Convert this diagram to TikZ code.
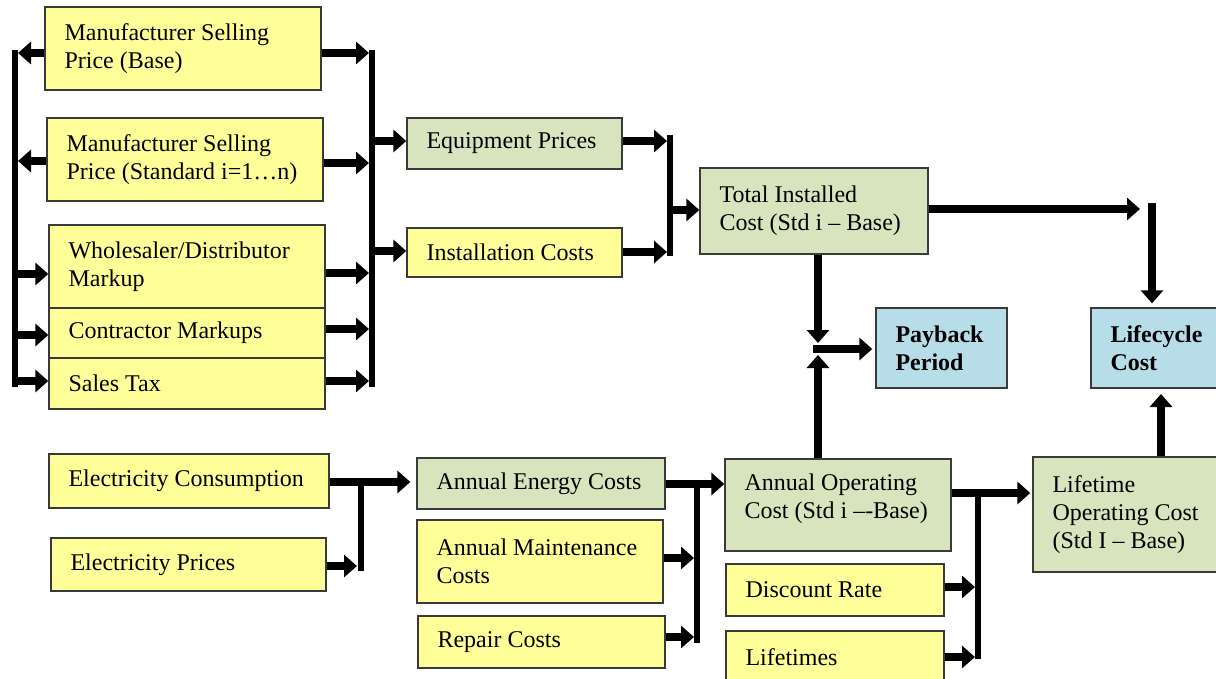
\documentclass[tikz,border=0pt]{standalone}
\usepackage{fontspec}
\setmainfont{Liberation Serif}
\usetikzlibrary{arrows.meta}
\definecolor{yel}{HTML}{FFFF99}
\definecolor{grn}{HTML}{D7E4BD}
\definecolor{blu}{HTML}{B7DEE8}
\definecolor{edgec}{HTML}{3A3A3A}
\newcommand\bxnode[8][]{%
  \node[boxc,fill=#7,minimum width=#5pt,minimum height=#6pt] (#2) at (#3,#4) {};
  \node[txt,anchor=west,#1] (#2-t) at ([xshift=20pt]#2.west) {#8};}
\begin{document}
\begin{tikzpicture}[x=1pt,y=-1pt,
  boxc/.style={draw=edgec,line width=1.3pt,inner sep=0pt},
  txt/.style={inner sep=0pt,align=left,font=\fontsize{24}{28}\selectfont},
  arr/.style={line width=8pt,-{Triangle[width=22pt,length=13pt]}},
  bar/.style={line width=6pt}]
\useasboundingbox (0,0) rectangle (1216,679);
\clip (0,0) rectangle (1216,679);

% boxes
\bxnode{msb}{183}{48.5}{276}{83}{yel}{Manufacturer Selling\\Price (Base)}
\bxnode{mss}{185}{159.5}{276}{83}{yel}{Manufacturer Selling\\Price (Standard i=1…n)}
\bxnode{wsd}{187}{266.5}{276}{83}{yel}{Wholesaler/Distributor\\Markup}
\bxnode{con}{187}{333}{276}{50}{yel}{Contractor Markups}
\bxnode{tax}{187}{383.5}{276}{51}{yel}{Sales Tax}
\bxnode{eqp}{514.5}{143.5}{215}{51}{grn}{Equipment Prices}
\bxnode{ins}{514.5}{252.5}{215}{49}{yel}{Installation Costs}
\bxnode{tic}{814}{211}{228}{86}{grn}{Total Installed\\Cost (Std i – Base)}
\bxnode{pay}{941.5}{348}{131}{80}{blu}{\textbf{Payback}\\\textbf{Period}}
\bxnode{lcc}{1160}{348}{138}{80}{blu}{\textbf{Lifecycle}\\\textbf{Cost}}
\bxnode{ecn}{189}{481}{280}{54}{yel}{Electricity Consumption}
\bxnode{epr}{188.5}{564.5}{275}{53}{yel}{Electricity Prices}
\bxnode{aec}{541}{483.5}{248}{51}{grn}{Annual Energy Costs}
\bxnode{amc}{540}{561.5}{246}{83}{yel}{Annual Maintenance\\Costs}
\bxnode{rep}{541.5}{642}{247}{52}{yel}{Repair Costs}
\bxnode[yshift=6pt]{aoc}{838}{505}{226}{92}{grn}{Annual Operating\\Cost (Std i –-Base)}
\bxnode{dsc}{835}{590}{218}{52}{yel}{Discount Rate}
\bxnode{lft}{835}{657}{218}{52}{yel}{Lifetimes}
\bxnode{loc}{1129}{514.5}{192}{115}{grn}{Lifetime\\Operating Cost\\(Std I – Base)}

% left bar
\coordinate (lbT) at (15,50); \coordinate (lbB) at (15,387);
\draw[bar] (lbT) -- (lbB);
\coordinate (l1) at (18,53);  \draw[arr] (msb.west |- l1) -- (l1);
\coordinate (l2) at (18,161); \draw[arr] (mss.west |- l2) -- (l2);
\coordinate (l3) at (15,274); \draw[arr] (l3) -- (l3 -| wsd.west);
\coordinate (l4) at (15,335); \draw[arr] (l4) -- (l4 -| con.west);
\coordinate (l5) at (15,381); \draw[arr] (l5) -- (l5 -| tax.west);

% right bar
\coordinate (rbT) at (372,50); \coordinate (rbB) at (372,387);
\draw[bar] (rbT) -- (rbB);
\coordinate (r1) at (369,53);  \draw[arr] (msb.east |- r1) -- (r1);
\coordinate (r2) at (369,163); \draw[arr] (mss.east |- r2) -- (r2);
\coordinate (r3) at (369,273); \draw[arr] (wsd.east |- r3) -- (r3);
\coordinate (r4) at (369,329); \draw[arr] (con.east |- r4) -- (r4);
\coordinate (r5) at (369,381); \draw[arr] (tax.east |- r5) -- (r5);
\coordinate (e1) at (372,141); \draw[arr] (e1) -- (e1 -| eqp.west);
\coordinate (e2) at (372,251); \draw[arr] (e2) -- (e2 -| ins.west);

% second bar
\coordinate (b2T) at (670,135); \coordinate (b2B) at (670,256);
\draw[bar] (b2T) -- (b2B);
\coordinate (b1) at (667,141); \draw[arr] (eqp.east |- b1) -- (b1);
\coordinate (b2) at (667,252); \draw[arr] (ins.east |- b2) -- (b2);
\coordinate (b3) at (670,210); \draw[arr] (b3) -- (b3 -| tic.west);

% total installed -> lifecycle
\coordinate (t1) at (1140,209); \draw[arr] (tic.east |- t1) -- (t1);
\coordinate (t2) at (1152,203); \draw[arr] (t2) -- ([yshift=4pt]t2 |- lcc.north);

% payback
\coordinate (pv) at (818,343); \draw[arr] (pv |- tic.south) -- (pv);
\coordinate (ph) at (813,349); \draw[arr] (ph) -- ([xshift=-3pt]ph -| pay.west);
\coordinate (pu) at (818,355); \draw[arr] (pu |- aoc.north) -- (pu);
\coordinate (lu) at (1161,394); \draw[arr] (lu |- loc.north) -- (lu);

% electricity
\coordinate (c1) at (329,482); \draw[arr] (ecn.east |- c1) -- ([xshift=-6pt]c1 -| aec.west);
\coordinate (c1b) at (361,482); \coordinate (c2b) at (361,571);
\draw[bar] (c1b) -- (c2b);
\coordinate (c2) at (357,566); \draw[arr] (epr.east |- c2) -- (c2);

% annual costs
\coordinate (d1) at (665,484); \draw[arr] (aec.east |- d1) -- (d1 -| aoc.west);
\coordinate (d1b) at (697,484); \coordinate (d2b) at (697,643);
\draw[bar] (d1b) -- (d2b);
\coordinate (d2) at (694,558); \draw[arr] (amc.east |- d2) -- (d2);
\coordinate (d3) at (694,637); \draw[arr] (rep.east |- d3) -- (d3);

% operating -> lifetime
\coordinate (f1) at (951,493); \draw[arr] (aoc.east |- f1) -- ([xshift=-2pt]f1 -| loc.west);
\coordinate (f1b) at (978,493); \coordinate (f2b) at (978,659);
\draw[bar] (f1b) -- (f2b);
\coordinate (f2) at (975,587); \draw[arr] (dsc.east |- f2) -- (f2);
\coordinate (f3) at (975,657); \draw[arr] (lft.east |- f3) -- (f3);
\end{tikzpicture}
\end{document}
